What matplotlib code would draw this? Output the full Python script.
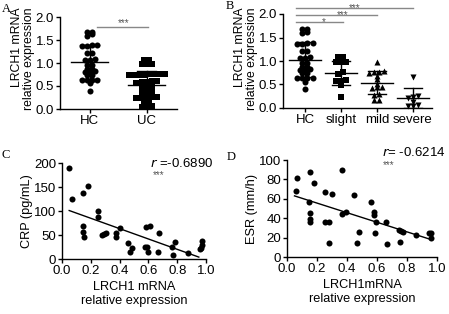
import numpy as np
import matplotlib
matplotlib.use('Agg')
import matplotlib.pyplot as plt

plt.rcParams['font.family'] = ['Liberation Sans', 'DejaVu Sans']

# ---- data ----
# panel A / B: LRCH1 mRNA relative expression
hc = [1.68, 1.59, 1.62, 1.68, 1.39, 1.37, 1.37, 1.39, 1.22, 1.22, 1.07, 1.07, 1.08, 0.96,
      0.96, 0.88, 0.83, 0.88, 0.81, 0.74, 0.74, 0.64, 0.63, 0.64, 0.63, 0.56, 0.40, 0.81]
uc = [1.06, 0.97, 0.97, 0.98, 1.06,
      0.77, 0.76, 0.75, 0.75, 0.74, 0.76, 0.75, 0.77,
      0.60, 0.58, 0.58, 0.57, 0.60,
      0.47, 0.45, 0.45,
      0.36, 0.35, 0.37,
      0.26, 0.24, 0.24, 0.25, 0.27,
      0.17, 0.15,
      0.06, 0.04, 0.05]
slight = [1.08, 1.08, 0.97, 0.97, 0.97, 0.76, 0.72, 0.58, 0.58, 0.60, 0.49, 0.24]
mild = [0.98, 0.78, 0.76, 0.77, 0.75, 0.68, 0.62, 0.52, 0.45, 0.42, 0.45, 0.30, 0.27, 0.17, 0.17]
severe = [0.67, 0.26, 0.24, 0.22, 0.12, 0.06, 0.05, 0.05]

a_labels = ['HC', 'UC']
a_mean = [1.03, 0.53]
a_sd = [0.37, 0.30]

b_labels = ['HC', 'slight', 'mild', 'severe']
b_mean = [1.03, 0.74, 0.54, 0.22]
b_sd = [0.37, 0.26, 0.25, 0.21]

# significance brackets in B: end group, height, stars, star position
b_sig_end = [3.0, 2.0, 1.05]
b_sig_y = [2.13, 1.98, 1.83]
b_sig_txt = ['***', '***', '*']
b_sig_txt_x = [1.39, 1.05, 0.53]

# panel C: CRP vs LRCH1
crp_x = [0.047, 0.066, 0.147, 0.178, 0.147, 0.147, 0.154, 0.248, 0.248, 0.28, 0.29, 0.306,
         0.373, 0.373, 0.403, 0.455, 0.485, 0.473, 0.573, 0.59, 0.597, 0.583, 0.61, 0.676,
         0.67, 0.765, 0.77, 0.788, 0.877, 0.97, 0.975, 0.965, 0.96]
crp_y = [190, 126, 137, 153, 69, 56, 46, 99, 88, 51, 53, 55,
         55, 45, 64, 33, 23, 14, 25, 25, 14, 67, 68, 55,
         14, 25, 9, 35, 12.5, 37, 30, 23, 20]
crp_fit_x = [0.05, 0.95]
crp_fit_y = [101, 4]

# panel D: ESR vs LRCH1
esr_x = [0.058, 0.069, 0.156, 0.18, 0.147, 0.151, 0.15, 0.15, 0.251, 0.298, 0.251, 0.28,
         0.28, 0.369, 0.365, 0.393, 0.447, 0.469, 0.478, 0.563, 0.578, 0.578, 0.596, 0.585,
         0.658, 0.667, 0.745, 0.758, 0.755, 0.773, 0.858, 0.945, 0.958, 0.958]
esr_y = [68.5, 81, 88, 76, 56.5, 45, 39, 36, 67.5, 65, 36, 36,
         14, 90, 44, 46, 64, 14, 26, 57, 46, 43, 36, 25,
         36.5, 13.5, 28, 27, 15, 26, 23, 25, 25, 19.5]
esr_fit_x = [0.05, 0.96]
esr_fit_y = [63, 18]

W, H = 449, 314
STAR_COLOR = '#555555'
FS = 9.5      # tick labels
LFS = 8.8     # axis labels
MS = 19       # marker area


def box(x0, y0, x1, y1):
    # pixel box (top-left origin) -> figure fraction rect
    return [x0 / W, 1 - y1 / H, (x1 - x0) / W, (y1 - y0) / H]


def swarm(vals, center, step, bin_w=0.06):
    vals = np.asarray(vals, dtype=float)
    offs = np.zeros(len(vals))
    order = np.argsort(vals)
    groups, cur = [], [order[0]]
    for i in order[1:]:
        if vals[i] - vals[cur[0]] < bin_w:
            cur.append(i)
        else:
            groups.append(cur)
            cur = [i]
    groups.append(cur)
    for g in groups:
        n = len(g)
        for k, i in enumerate(g):
            offs[i] = (k - (n - 1) / 2) * step
    return center + offs


def style(ax):
    for s in ['top', 'right']:
        ax.spines[s].set_visible(False)
    for s in ['left', 'bottom']:
        ax.spines[s].set_linewidth(1.0)
    ax.tick_params(direction='out', length=3, width=1.0, labelsize=FS, pad=1.2)


def dotplot(ax, groups, means, sds, markers, step, half_mean, half_cap):
    for i, vals in enumerate(groups):
        xs = swarm(vals, i, step)
        ax.scatter(xs, vals, s=MS, marker=markers[i], color='black', linewidths=0, zorder=3,
                   clip_on=False)
        m, sd = means[i], sds[i]
        lo = max(m - sd, 0)
        ax.plot([i - half_mean, i + half_mean], [m, m], color='black', lw=1.0, zorder=4)
        ax.plot([i, i], [lo, m + sd], color='black', lw=1.0, zorder=4)
        ax.plot([i - half_cap, i + half_cap], [m + sd, m + sd], color='black', lw=1.0, zorder=4)
        ax.plot([i - half_cap, i + half_cap], [lo, lo], color='black', lw=1.0, zorder=4)


fig = plt.figure(figsize=(W / 100, H / 100), dpi=100)

# ---- A ----
axA = fig.add_axes(box(60, 17, 177, 109))
style(axA)
dotplot(axA, [hc, uc], a_mean, a_sd, ['o', 's'], 0.09, 0.32, 0.17)
axA.set_xlim(-0.52, 1.53)
axA.set_ylim(0, 2.0)
axA.set_yticks([0, 0.5, 1.0, 1.5, 2.0])
axA.set_yticklabels(['0.0', '0.5', '1.0', '1.5', '2.0'])
axA.set_xticks([0, 1])
axA.set_xticklabels(a_labels)
axA.set_ylabel('LRCH1 mRNA\nrelative expression', fontsize=LFS, linespacing=1.0,
               multialignment='right')
axA.yaxis.set_label_coords(-0.215, 0.55)
axA.plot([0.12, 1.02], [1.78, 1.78], color='#888888', lw=1.0, clip_on=False)
axA.text(0.6, 1.81, '***', ha='center', va='baseline', fontsize=7, color=STAR_COLOR)

# ---- B ----
axB = fig.add_axes(box(283, 14, 432, 108))
style(axB)
dotplot(axB, [hc, slight, mild, severe], b_mean, b_sd, ['o', 's', '^', 'v'], 0.14, 0.44, 0.25)
axB.set_xlim(-0.61, 3.53)
axB.set_ylim(0, 2.0)
axB.set_yticks([0, 0.5, 1.0, 1.5, 2.0])
axB.set_yticklabels(['0.0', '0.5', '1.0', '1.5', '2.0'])
axB.set_xticks([0, 1, 2, 3])
axB.set_xticklabels(b_labels)
axB.set_ylabel('LRCH1 mRNA\nrelative expression', fontsize=LFS, linespacing=1.0,
               multialignment='right')
axB.yaxis.set_label_coords(-0.17, 0.52)
for x_end, y_line, stars, tx in zip(b_sig_end, b_sig_y, b_sig_txt, b_sig_txt_x):
    axB.plot([-0.25, x_end], [y_line, y_line], color='#888888', lw=1.0, clip_on=False)
    axB.text(tx, y_line - 0.06, stars, ha='center', va='baseline',
             fontsize=7, color=STAR_COLOR, clip_on=False)

# ---- C ----
axC = fig.add_axes(box(62, 163, 206, 259))
style(axC)
axC.scatter(crp_x, crp_y, s=MS, color='black', linewidths=0, zorder=3, clip_on=False)
axC.plot(crp_fit_x, crp_fit_y, color='black', lw=1.0)
axC.set_xlim(0, 1.0)
axC.set_ylim(0, 200)
axC.set_xticks([0, 0.2, 0.4, 0.6, 0.8, 1.0])
axC.set_xticklabels(['0.0', '0.2', '0.4', '0.6', '0.8', '1.0'])
axC.set_yticks([0, 50, 100, 150, 200])
axC.set_ylabel('CRP (pg/mL)', fontsize=LFS + 0.4, labelpad=1)
axC.set_xlabel('LRCH1 mRNA\nrelative expression', fontsize=LFS + 0.4, labelpad=3, linespacing=1.2)
axC.text(0.61, 1.0, r'$r$ =-0.6890', transform=axC.transAxes, fontsize=FS, va='center')
axC.text(0.63, 0.84, '***', transform=axC.transAxes, fontsize=7, va='baseline', color=STAR_COLOR)

# ---- D ----
axD = fig.add_axes(box(287, 160, 437, 257))
style(axD)
axD.scatter(esr_x, esr_y, s=MS, color='black', linewidths=0, zorder=3, clip_on=False)
axD.plot(esr_fit_x, esr_fit_y, color='black', lw=1.0)
axD.set_xlim(0, 1.0)
axD.set_ylim(0, 100)
axD.set_xticks([0, 0.2, 0.4, 0.6, 0.8, 1.0])
axD.set_xticklabels(['0.0', '0.2', '0.4', '0.6', '0.8', '1.0'])
axD.set_yticks([0, 20, 40, 60, 80, 100])
axD.set_ylabel('ESR (mm/h)', fontsize=LFS + 0.4, labelpad=1)
axD.set_xlabel('LRCH1mRNA\nrelative expression', fontsize=LFS + 0.4, labelpad=3, linespacing=1.2)
axD.text(0.63, 1.08, r'$r$= -0.6214', transform=axD.transAxes, fontsize=FS, va='center')
axD.text(0.64, 0.92, '***', transform=axD.transAxes, fontsize=7, va='baseline', color=STAR_COLOR)

# panel letters
for lbl, x, y in [('A', 2, 9), ('B', 226, 6), ('C', 2, 155), ('D', 227, 157)]:
    fig.text(x / W, 1 - y / H, lbl, fontsize=9, family='Liberation Serif', va='center')

fig.savefig('out.png', dpi=100)
